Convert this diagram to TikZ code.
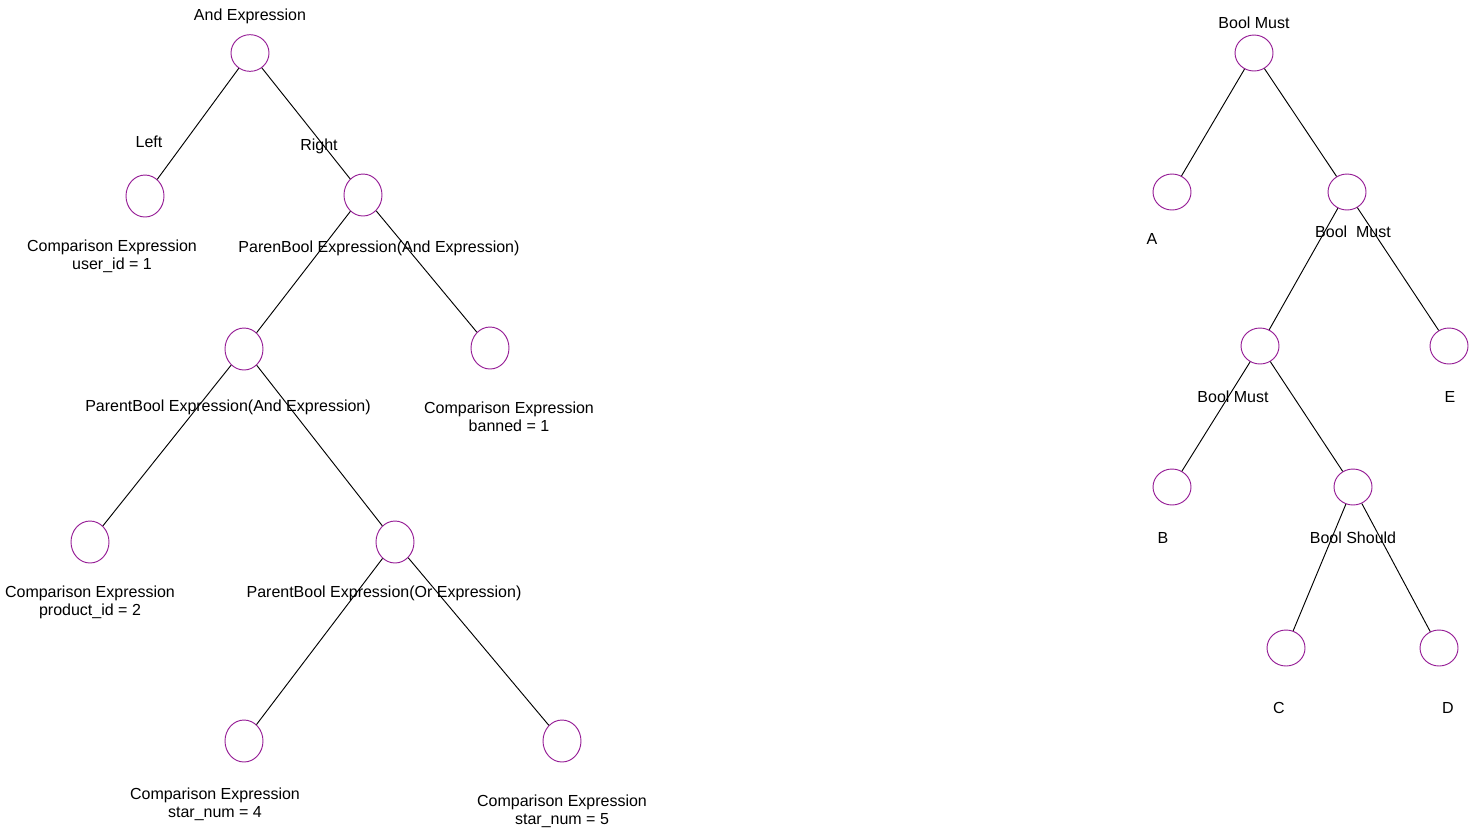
\documentclass[tikz,border=0pt]{standalone}
\usepackage{fontspec}
\setmainfont{Liberation Sans}
\usetikzlibrary{shapes.geometric}
\begin{document}
\begin{tikzpicture}[x=0.75pt,y=0.75pt,yscale=-1,xscale=1,line width=0.7pt]
\useasboundingbox (0,0) rectangle (1469,833); %diagram size
\tikzset{
  treenode/.style={draw={rgb, 255:red, 150; green, 30; blue, 150 },ellipse,inner sep=0pt,minimum width=28.5pt,minimum height=31.5pt},
  boolnode/.style={treenode,minimum height=27pt},
  treelabel/.style={font=\fontsize{12}{13.5}\selectfont,align=center,inner sep=0pt}
}

%left tree: expression
\node [treenode,minimum height=27.5pt] (andexpr) at (250,53) {};
\node [treenode] (leftcmp) at (145,196) {};
\node [treenode] (rightparen) at (363,195) {};
\node [treenode] (parenand) at (244,349) {};
\node [treenode] (bannedcmp) at (490,348) {};
\node [treenode] (productcmp) at (90,542) {};
\node [treenode] (parenor) at (395,542) {};
\node [treenode] (star4cmp) at (244,741) {};
\node [treenode] (star5cmp) at (562,741) {};

\draw (andexpr) -- (leftcmp);
\draw (andexpr) -- (rightparen);
\draw (rightparen) -- (parenand);
\draw (rightparen) -- (bannedcmp);
\draw (parenand) -- (productcmp);
\draw (parenand) -- (parenor);
\draw (parenor) -- (star4cmp);
\draw (parenor) -- (star5cmp);

\node [treelabel] (andexprlbl) at (250,16.5) {And Expression};
\node [treelabel] (leftlbl) at (149,141.5) {Left};
\node [treelabel] (rightlbl) at (319,146.5) {Right};
\node [treelabel] (leftcmplbl) at (112,256.5) {Comparison Expression\\user\_id = 1};
\node [treelabel] (rightparenlbl) at (379,248.5) {ParenBool Expression(And Expression)};
\node [treelabel] (parenandlbl) at (228,407.5) {ParentBool Expression(And Expression)};
\node [treelabel] (bannedcmplbl) at (509,416.5) {Comparison Expression\\banned = 1};
\node [treelabel] (productcmplbl) at (90,602.5) {Comparison Expression\\product\_id = 2};
\node [treelabel] (parenorlbl) at (384,593.5) {ParentBool Expression(Or Expression)};
\node [treelabel] (star4cmplbl) at (215,804.5) {Comparison Expression\\star\_num = 4};
\node [treelabel] (star5cmplbl) at (562,811.5) {Comparison Expression\\star\_num = 5};

%right tree: bool query
\node [boolnode] (mustroot) at (1254,53) {};
\node [boolnode] (leafa) at (1172,192) {};
\node [boolnode] (mustmid) at (1347,192) {};
\node [boolnode] (mustlow) at (1260,346) {};
\node [boolnode] (leafe) at (1449,346) {};
\node [boolnode] (leafb) at (1172,487) {};
\node [boolnode] (should) at (1353,487) {};
\node [boolnode] (leafc) at (1286,648) {};
\node [boolnode] (leafd) at (1439,648) {};

\draw (mustroot) -- (leafa);
\draw (mustroot) -- (mustmid);
\draw (mustmid) -- (mustlow);
\draw (mustmid) -- (leafe);
\draw (mustlow) -- (leafb);
\draw (mustlow) -- (should);
\draw (should) -- (leafc);
\draw (should) -- (leafd);

\node [treelabel] (mustrootlbl) at (1254,22.5) {Bool Must};
\node [treelabel] (leafalbl) at (1152,238.5) {A};
\node [treelabel] (mustmidlbl) at (1353,231.5) {Bool\ \ Must};
\node [treelabel] (mustlowlbl) at (1233,396.5) {Bool Must};
\node [treelabel] (leafelbl) at (1450,396.5) {E};
\node [treelabel] (leafblbl) at (1163,537.5) {B};
\node [treelabel] (shouldlbl) at (1353,537.5) {Bool Should};
\node [treelabel] (leafclbl) at (1279,707.5) {C};
\node [treelabel] (leafdlbl) at (1448,707.5) {D};

\end{tikzpicture}
\end{document}
